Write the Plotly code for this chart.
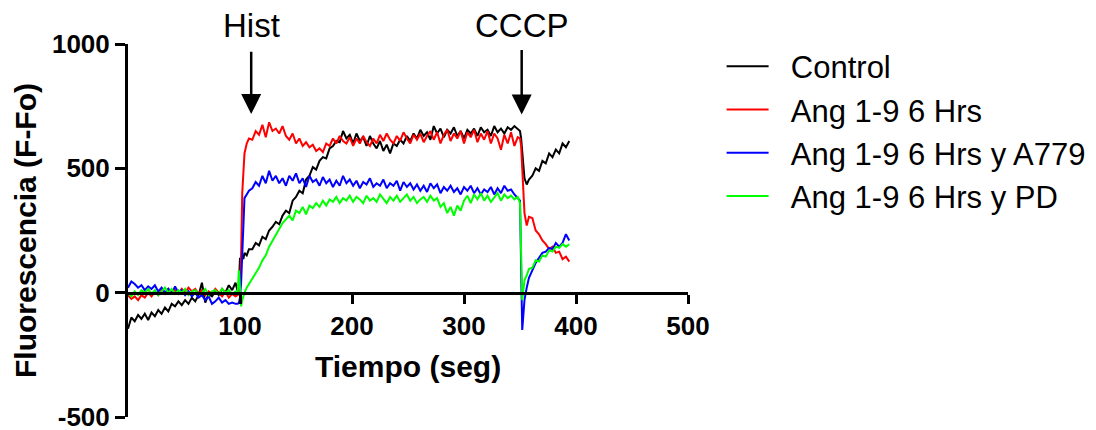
import plotly.graph_objects as go

# time (s)
tiempo = [0, 3, 6, 9, 12, 15, 18, 21, 24, 27,
          30, 33, 36, 39, 42, 45, 48, 51, 54, 57,
          60, 63, 66, 69, 72, 75, 78, 81, 84, 87,
          90, 93, 96,
          98, 99, 100, 101, 102, 103, 104, 106, 108,
          111, 114, 117, 120, 123, 126, 129, 132, 135, 138,
          141, 144, 147, 150, 153, 156, 159, 162, 165, 168,
          171, 174, 177, 180, 183, 186, 189, 192, 195, 198,
          201, 204, 207, 210, 213, 216, 219, 222, 225, 228,
          231, 234, 237, 240, 243, 246, 249, 252, 255, 258,
          261, 264, 267, 270, 273, 276, 279, 282, 285, 288,
          291, 294, 297, 300, 303, 306, 309, 312, 315, 318,
          321, 324, 327, 330, 333, 336, 339, 342, 345, 348,
          350, 351, 352, 353, 354, 356, 358,
          361, 364, 367, 370, 373, 376, 379, 382, 385, 388, 391, 394]

control = [-145, -100, -115, -90, -105, -85, -110, -80, -95, -70,
           -85, -60, -75, -45, -55, -35, -50, -30, -45, -20,
           -35, -10, 40, -40, -5, -15, 5, -10, 15, 0,
           30, 10, 40,
           5, 30, 140, 120, 150, 135, 160, 150, 175,
           175, 200, 190, 225, 215, 250, 265, 285, 275, 310,
           330, 320, 370, 385, 410, 400, 455, 470, 505, 495,
           530, 545, 540, 580, 590, 610, 605, 650, 620, 635,
           600, 640, 610, 625, 590, 630, 600, 580, 610, 570,
           595, 560, 600, 590, 615, 600, 630, 610, 640, 620,
           655, 630, 645, 615, 670, 640, 660, 625, 655, 640,
           665, 630, 650, 620, 655, 640, 660, 630, 665, 645,
           655, 630, 670, 645, 660, 640, 665, 655, 670, 660,
           650, 620, 560, 500, 460, 435, 455,
           470, 500, 490, 530, 520, 560, 545, 575, 560, 600, 585, 610]

ang19 = [-10, -25, -15, -30, -10, -20, 0, -15, 5, -10,
         10, -5, 15, 0, 10, -5, 15, 0, 20, 5,
         15, -5, 10, -10, 5, -5, 15, 0, -15, 5,
         -20, -5, -15,
         -10, 0, 30, 150, 400, 500, 560, 600, 620,
         615, 650, 635, 675, 625, 685, 650, 660, 640, 670,
         630, 615, 640, 600, 620, 590, 605, 585, 595, 570,
         580, 565, 600, 590, 620, 600, 630, 610, 600, 625,
         590, 620, 600, 630, 605, 590, 620, 600, 635, 610,
         640, 615, 600, 630, 610, 645, 620, 600, 635, 615,
         640, 605, 630, 650, 615, 645, 600, 635, 655, 610,
         640, 620, 650, 600, 645, 625, 655, 605, 640, 615,
         650, 600, 640, 620, 575, 635, 600, 645, 590, 625,
         620, 590, 500, 400, 320, 270, 305,
         300, 250, 235, 210, 195, 175, 185, 160, 165, 135, 145, 125]

ang19_a779 = [20, 45, 35, 20, 30, 10, 25, 15, 30, 5,
              20, 0, 15, -5, 25, 0, 10, -10, 5, -15,
              0, -20, -10, -30, -15, -45, -35, -20, -40, -30,
              -45, -40, -45,
              -45, -40, -20, 40, 150, 330, 380, 395, 410,
              420, 445, 430, 470, 440, 490, 450, 470, 440, 460,
              430, 470, 450, 480, 440, 460, 425, 470, 445, 455,
              430, 465, 440, 455, 425, 450, 430, 470, 440, 455,
              430, 450, 420, 445, 435, 460, 425, 440, 430, 455,
              420, 440, 430, 450, 410, 445, 425, 440, 415, 435,
              410, 430, 405, 440, 420, 435, 400, 425, 410, 430,
              405, 420, 395, 425, 410, 430, 400, 420, 395, 415,
              405, 425, 395, 420, 400, 430, 410, 415, 395, 380,
              370, 100, -150, -90, -30, 20, 60,
              90, 120, 140, 160, 165, 180, 175, 200, 185, 200, 235, 210]

ang19_pd = [0, -15, 5, -10, 10, 0, 15, -5, 10, -10,
            5, 20, 0, 15, -5, 10, 0, 15, -10, 5,
            10, -5, 0, 15, -10, 5, 10, -5, 15, 0,
            10, -5, 5,
            5, 90, -10, -55, -30, -10, 0, 20, 35,
            55, 80, 100, 130, 150, 185, 210, 230, 260, 280,
            295, 310, 290, 330, 320, 345, 315, 350, 340, 360,
            345, 370, 350, 375, 365, 385, 360, 380, 370, 390,
            365, 385, 375, 360, 390, 370, 380, 365, 395, 375,
            360, 385, 370, 390, 365, 380, 395, 370, 385, 360,
            375, 385, 365, 390, 370, 380, 345, 360, 320, 345,
            310, 350, 330, 370, 390, 360, 395, 375, 400, 370,
            390, 365, 385, 400, 370, 395, 380, 390, 375, 385,
            360, 150, -30, 10, 50, 70, 95,
            100, 130, 125, 150, 145, 170, 165, 185, 180, 195, 185, 195]

series_names = ["Control", "Ang 1-9 6 Hrs", "Ang 1-9 6 Hrs y A779", "Ang 1-9 6 Hrs y PD"]
series_values = [control, ang19, ang19_a779, ang19_pd]
series_colors = ["#000000", "#ff0000", "#0000ff", "#00ff00"]

x_ticks = [100, 200, 300, 400, 500]
y_ticks = [-500, 0, 500, 1000]
y_ticktext = ["-500", "0", "500", "1000"]

x_title = "Tiempo (seg)"
y_title = "Fluorescencia (F-Fo)"

# event markers: (label, time, arrow tip y, arrow tail y)
events = [("Hist", 110, 718, 975), ("CCCP", 351.5, 716, 982)]

FONT = "Liberation Sans, Arial, sans-serif"
NB = "\u00a0\u00a0"

fig = go.Figure()
for name, vals, col in zip(series_names, series_values, series_colors):
    fig.add_trace(go.Scatter(x=tiempo, y=vals, mode="lines", name=NB + name,
                             line=dict(color=col, width=2)))

for label, tx, tip, tail in events:
    fig.add_annotation(x=tx, y=tip, ax=tx, ay=tail, axref="x", ayref="y",
                       xref="x", yref="y", text="", showarrow=True,
                       arrowhead=2, arrowsize=1.6, arrowwidth=2.5, arrowcolor="black")
    fig.add_annotation(x=tx, y=1.05, xref="x", yref="paper", text=label, showarrow=False,
                       yanchor="middle", borderpad=0,
                       font=dict(family=FONT, size=33, color="black"))

# axis titles
fig.add_annotation(x=0.5, y=0.136, xref="paper", yref="paper", text="<b>" + x_title + "</b>",
                   showarrow=False, xanchor="center", yanchor="middle",
                   font=dict(family=FONT, size=30, color="black"))
fig.add_annotation(x=-0.183, y=0.5, xref="paper", yref="paper", text="<b>" + y_title + "</b>",
                   showarrow=False, xanchor="center", yanchor="middle", textangle=-90,
                   font=dict(family=FONT, size=30, color="black"))

fig.update_layout(
    width=1096, height=430,
    margin=dict(l=120, r=416, t=35.5, b=20.5),
    paper_bgcolor="white", plot_bgcolor="white",
    font=dict(family=FONT, color="black"),
    showlegend=True,
    legend=dict(x=1.060, y=1.012, xanchor="left", yanchor="top",
                font=dict(family=FONT, size=31, color="black"),
                itemwidth=42, tracegroupgap=0, bgcolor="rgba(0,0,0,0)"),
    xaxis=dict(range=[0, 500], tickvals=x_ticks, ticks="outside", ticklen=9, tickwidth=3,
               showline=True, linewidth=3, linecolor="black", tickcolor="black",
               showgrid=False, zeroline=False, anchor="free", position=1/3,
               ticklabeloverflow="allow", automargin=False,
               tickfont=dict(family=FONT, size=26, weight="bold")),
    yaxis=dict(range=[-500, 1000], tickvals=y_ticks, ticktext=y_ticktext,
               ticks="outside", ticklen=10, tickwidth=3,
               showline=True, linewidth=3, linecolor="black", tickcolor="black",
               showgrid=False, zeroline=False, ticklabeloverflow="allow", automargin=False,
               tickfont=dict(family=FONT, size=26, weight="bold")),
)

fig.write_html("out.html")
